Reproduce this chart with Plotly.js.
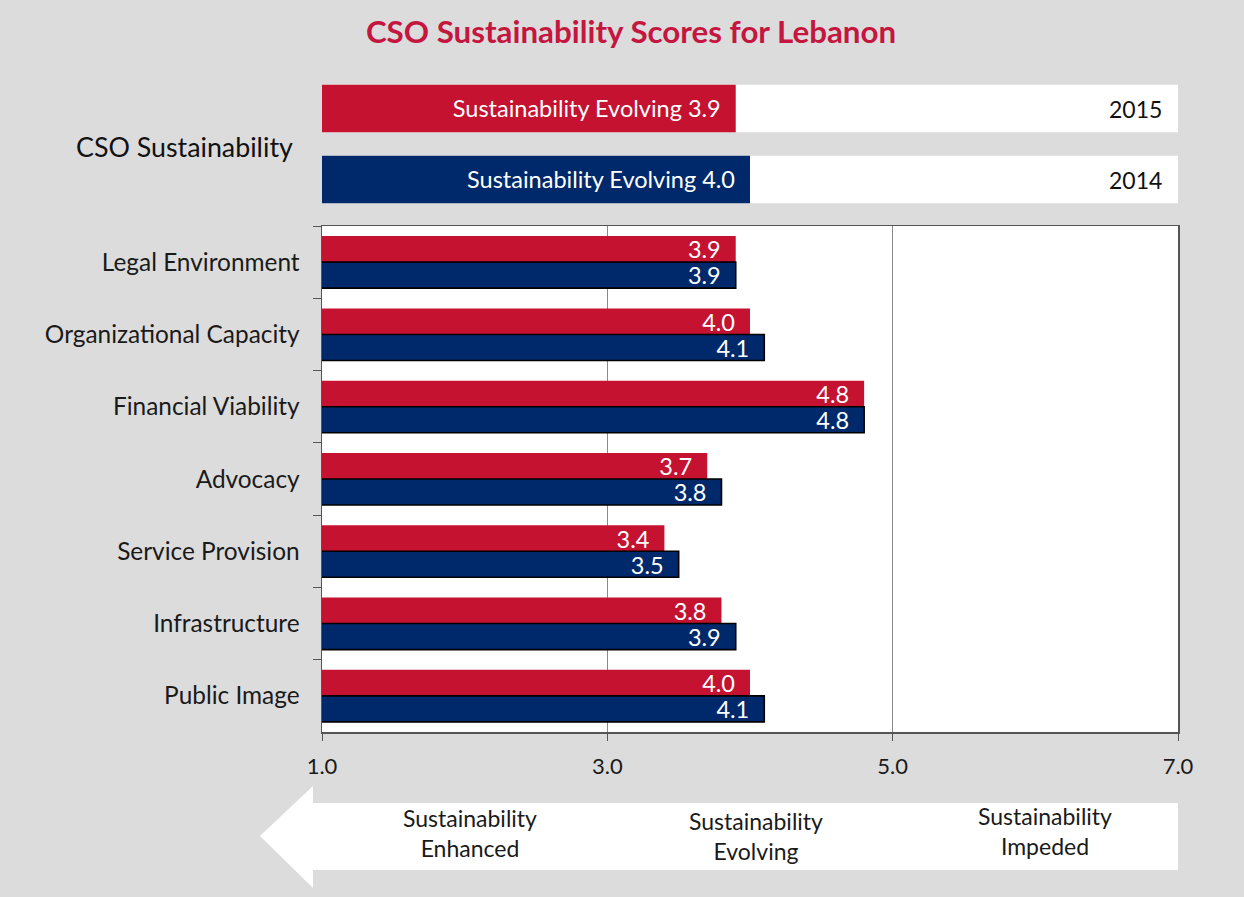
<!DOCTYPE html>
<html>
<head>
<meta charset="utf-8">
<script src="https://cdn.plot.ly/plotly-3.0.1.min.js"></script>
<style>html,body{margin:0;padding:0;background:#dcdcdc;}#chart{width:1244px;height:897px;}</style>
</head>
<body>
<div id="chart"></div>
<script>
// ---- data ----
const dimensions = ["Legal Environment", "Organizational Capacity", "Financial Viability", "Advocacy", "Service Provision", "Infrastructure", "Public Image"];
const scores2015 = [3.9, 4.0, 4.8, 3.7, 3.4, 3.8, 4.0];
const scores2014 = [3.9, 4.1, 4.8, 3.8, 3.5, 3.9, 4.1];
const years = ["2015", "2014"];
const overallScores = [3.9, 4.0];
const overallStages = ["Sustainability Evolving", "Sustainability Evolving"];
const scaleMin = 1, scaleMax = 7;
const tickLabels = ["1.0", "3.0", "5.0", "7.0"];
const tickValues = [1, 3, 5, 7];
const stageLabels = ["Sustainability<br>Enhanced", "Sustainability<br>Evolving", "Sustainability<br>Impeded"];

// ---- styling helpers ----
const W = 1244, H = 897;
const px = x => x / W;
const py = y => 1 - y / H;
const RED = "#c41230", NAVY = "#00296b";
const FONT = "Lato, 'Open Sans', sans-serif";
const PAD = "\u00a0\u00a0";

const traces = [
  {
    type: "bar", orientation: "h", name: "2015",
    y: dimensions, x: scores2015,
    marker: {color: RED, line: {width: 0}},
    text: scores2015.map(v => v.toFixed(1) + PAD),
    textposition: "inside", insidetextanchor: "end", textangle: 0,
    textfont: {color: "white", size: 24, family: FONT},
    hoverinfo: "x+y", xaxis: "x", yaxis: "y"
  },
  {
    type: "bar", orientation: "h", name: "2014",
    y: dimensions, x: scores2014,
    marker: {color: NAVY, line: {width: 1.6, color: "#000"}},
    text: scores2014.map(v => v.toFixed(1) + PAD),
    textposition: "inside", insidetextanchor: "end", textangle: 0,
    textfont: {color: "white", size: 24, family: FONT},
    hoverinfo: "x+y", xaxis: "x", yaxis: "y"
  },
  {
    type: "bar", orientation: "h", name: "band",
    y: years, x: years.map(() => scaleMax),
    marker: {color: "white", line: {width: 0}},
    width: 0.67, offsetgroup: "top",
    hoverinfo: "skip", xaxis: "x2", yaxis: "y2"
  },
  {
    type: "bar", orientation: "h", name: "CSO Sustainability",
    y: years, x: overallScores,
    marker: {color: [RED, NAVY], line: {width: 0}},
    width: 0.67, offsetgroup: "top",
    text: overallScores.map((v, i) => overallStages[i] + " " + v.toFixed(1) + PAD),
    textposition: "inside", insidetextanchor: "end", textangle: 0,
    textfont: {color: "white", size: 23.5, family: FONT},
    hoverinfo: "x+y", xaxis: "x2", yaxis: "y2"
  }
];

const annotations = [
  {text: "CSO Sustainability", xref: "paper", yref: "paper", x: px(295), y: py(147),
   xanchor: "right", yanchor: "middle", showarrow: false, font: {size: 26.8, color: "#111", family: FONT}}
];
years.forEach((yr, i) => annotations.push({
  text: yr, xref: "x2", yref: "y2", x: scaleMax, y: i, xanchor: "right", xshift: -14,
  yanchor: "middle", showarrow: false, font: {size: 23, color: "#111", family: FONT}
}));
const stageCenters = [470, 756, 1045];
const stageYs = [833, 836, 831];
stageLabels.forEach((t, i) => annotations.push({
  text: t, xref: "paper", yref: "paper", x: px(stageCenters[i]), y: py(stageYs[i]),
  xanchor: "center", yanchor: "middle", showarrow: false, align: "center",
  font: {size: 23, color: "#1a1a1a", family: FONT}
}));

const arrowPts = [[313,803],[1178,803],[1178,870],[313,870],[313,888],[260,836],[313,786]];
const arrowPath = "M" + arrowPts.map(p => px(p[0]).toFixed(5) + "," + py(p[1]).toFixed(5)).join(" L") + " Z";

const layout = {
  width: W, height: H,
  margin: {l: 0, r: 0, t: 0, b: 0},
  paper_bgcolor: "#dcdcdc",
  plot_bgcolor: "rgba(0,0,0,0)",
  showlegend: false,
  barmode: "group", bargap: 0.28, bargroupgap: 0,
  uniformtext: {mode: "show", minsize: 23.5},
  font: {family: FONT, color: "#111"},
  title: {text: "<b>CSO Sustainability Scores for Lebanon</b>", xref: "paper", yref: "paper",
          x: px(631), xanchor: "center", y: py(32), yanchor: "middle",
          font: {size: 31.3, color: "#c4163f", family: FONT}},
  xaxis: {
    domain: [px(322), px(1178)], range: [scaleMin, scaleMax],
    tickmode: "array", tickvals: tickValues, ticktext: tickLabels,
    showgrid: true, gridcolor: "#8a8a8a", gridwidth: 1, zeroline: false,
    showline: true, linecolor: "#555", linewidth: 1.5, mirror: true,
    ticks: "outside", ticklen: 7, tickcolor: "#555",
    ticklabelstandoff: 7,
    tickfont: {size: 22, color: "#1a1a1a", family: FONT}, anchor: "y"
  },
  yaxis: {
    domain: [py(732), py(226)], type: "category", autorange: "reversed",
    tickson: "boundaries", ticks: "outside", ticklen: 8, tickcolor: "#555",
    showline: true, linecolor: "#555", linewidth: 1.5, mirror: true,
    showgrid: false, zeroline: false, ticklabelstandoff: 16,
    tickfont: {size: 24.4, color: "#1a1a1a", family: FONT}, anchor: "x"
  },
  xaxis2: {domain: [px(322), px(1178)], range: [scaleMin, scaleMax], visible: false, anchor: "y2"},
  yaxis2: {domain: [py(215), py(73)], type: "category", range: [1.5, -0.5], visible: false, anchor: "x2"},
  shapes: [
    {type: "rect", xref: "x domain", yref: "y domain", x0: 0, x1: 1, y0: 0, y1: 1,
     fillcolor: "white", line: {width: 0}, layer: "below"},
    {type: "path", xref: "paper", yref: "paper", path: arrowPath,
     fillcolor: "white", line: {width: 0}, layer: "below"}
  ],
  annotations: annotations
};

Plotly.newPlot("chart", traces, layout, {displayModeBar: false, staticPlot: true});
</script>
</body>
</html>
